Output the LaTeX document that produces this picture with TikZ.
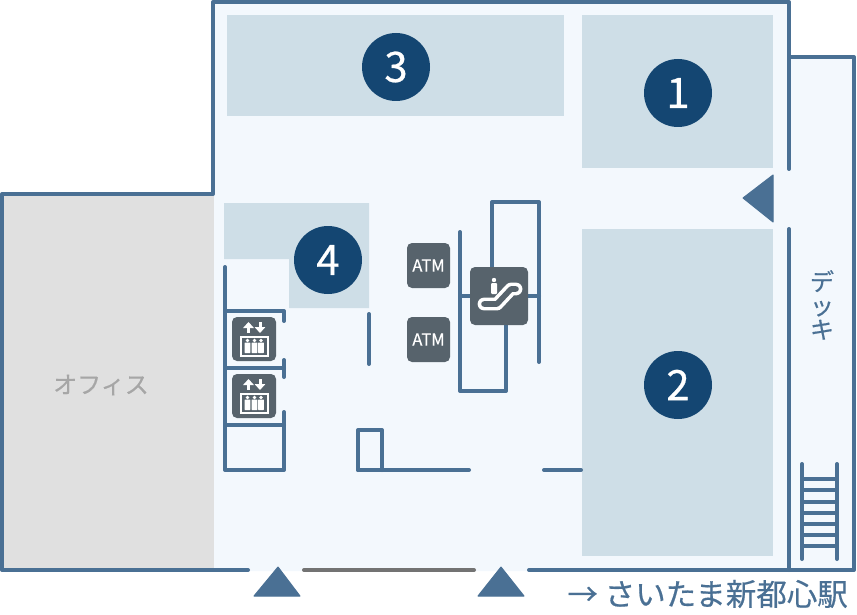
\documentclass[tikz,border=0pt]{standalone}
\usepackage{fontspec}
\setmainfont{Noto Sans CJK JP}
\newfontfamily\heavyfont[FakeBold=0.5]{Noto Sans CJK JP}
\usepackage{xcolor}
\usetikzlibrary{arrows.meta}
\definecolor{wallblue}{HTML}{4A7094}
\definecolor{floorblue}{HTML}{F3F8FD}
\definecolor{shopblue}{HTML}{CEDEE7}
\definecolor{badgeblue}{HTML}{144672}
\definecolor{icongrey}{HTML}{57636C}
\tikzset{
  wall/.style={draw=wallblue,line width=4pt,line cap=round,line join=round},
  shop/.style={fill=shopblue},
  badge/.style={circle,fill=badgeblue,text=white,minimum size=68pt,inner sep=0pt,font=\heavyfont\fontsize{42}{42}\selectfont},
  iconbox/.style={fill=icongrey,rounded corners=5pt},
  entrance/.style={fill=wallblue,draw=wallblue,line width=1pt,line join=round},
  atmlabel/.style={text=white,inner sep=0pt,font=\heavyfont\fontsize{16.5}{16.5}\selectfont},
  liftarrow/.style={white,line width=3pt,-{Triangle[width=10.5pt,length=6pt]}},
}
\begin{document}
\begin{tikzpicture}[x=1pt,y=-1pt]
  \useasboundingbox (0,0) rectangle (857,615);
  % floor
  \fill[floorblue] (213,2) -- (789,2) -- (789,57) -- (854,57) -- (854,571) -- (213,571) -- cycle;
  \fill[black!12] (2,194) rectangle (214,571);
  % shops
  \fill[shop] (227,15) rectangle (564,116);
  \fill[shop] (582,15) rectangle (773,168);
  \fill[shop] (582,229) rectangle (773,556);
  \fill[shop] (224,203) -- (369,203) -- (369,308) -- (289,308) -- (289,259) -- (224,259) -- cycle;
  % outer walls
  \draw[wall] (248,570) -- (2,570) -- (2,194) -- (213,194) -- (213,2) -- (789,2) -- (789,169);
  \draw[wall] (789,57) -- (854,57) -- (854,570) -- (529,570);
  \draw[wall] (789,229) -- (789,570);
  \draw[draw=black!55,line width=4pt,line cap=round] (304,570) -- (474,570);
  % elevators
  \draw[wall] (225,267) -- (225,470) -- (284,470) -- (284,412);
  \draw[wall] (225,311) -- (284,311) -- (284,321);
  \draw[wall] (225,368) -- (284,368);
  \draw[wall] (284,360) -- (284,377);
  \draw[wall] (225,425) -- (284,425);
  % inner walls
  \draw[wall] (369,314) -- (369,364);
  \draw[wall] (358,470) -- (358,430) -- (382,430) -- (382,470);
  \draw[wall] (358,470) -- (469,470);
  \draw[wall] (544,470) -- (581,470);
  % escalator walls
  \draw[wall] (460,232) -- (460,391) -- (506,391) -- (506,320);
  \draw[wall] (492,270) -- (492,202) -- (539,202) -- (539,362);
  \draw[wall] (460,296) -- (539,296);
  % stairs
  \draw[wall] (802,464) -- (802,559);
  \draw[wall] (837,464) -- (837,559);
  \foreach \y in {479,490,502,513,524,535,546}
    \draw[wall,line cap=butt] (802,\y) -- (837,\y);
  % arrows
  \filldraw[entrance] (278,567) -- (300,596) -- (254,596) -- cycle;
  \filldraw[entrance] (501,567) -- (524,596) -- (478,596) -- cycle;
  \filldraw[entrance] (743,198) -- (773,175) -- (773,222) -- cycle;
  % numbers
  \node[badge] (shop1) at (678,93) {1};
  \node[badge] (shop2) at (678,385) {2};
  \node[badge] (shop3) at (396,67) {3};
  \node[badge] (shop4) at (328,260) {4};
  % atm
  \fill[iconbox] (407,243) rectangle (450,288);
  \fill[iconbox] (407,317) rectangle (450,362);
  \node[atmlabel] (atm1) at (428.5,265.5) {ATM};
  \node[atmlabel] (atm2) at (428.5,339.5) {ATM};
  % escalator icon
  \fill[iconbox] (470,267) rectangle (528,325);
  \draw[white,line width=3.6pt,double=icongrey,double distance=5.6pt,line join=round,line cap=round]
    (484,304) -- (497,304) -- (511,289) -- (516,289);
  \fill[white] (494,280) circle (2.2);
  \fill[white,rounded corners=1pt] (491,283) rectangle (497,294);
  % elevator icons
  \foreach \y in {317,374} {
    \fill[iconbox] (232,\y) rectangle (276,\y+44);
    \draw[white,line width=2pt] (240.5,\y+19.5) rectangle (267.5,\y+39);
    \draw[liftarrow] (248.5,\y+16) -- (248.5,\y+5);
    \draw[liftarrow] (260,\y+5) -- (260,\y+16);
    \foreach \x in {247.5,254.5,261} {
      \fill[white] (\x,\y+23.5) circle (1.9);
      \fill[white,rounded corners=.5pt] (\x-2.8,\y+25.5) rectangle (\x+2.8,\y+36);
    }
  }
  % labels
  \node[text=black!35,inner sep=0pt,font=\heavyfont\fontsize{24}{24}\selectfont] (office) at (101,385) {オフィス};
  \node[text=wallblue,inner sep=0pt,align=center,font=\heavyfont\fontsize{24}{24}\selectfont] (deck) at (822,305) {デ\\ッ\\キ};
  \node[text=wallblue,inner sep=0pt,anchor=east,font=\heavyfont\fontsize{30.5}{30.5}\selectfont] (station) at (848,594) {→ さいたま新都心駅};
\end{tikzpicture}
\end{document}
